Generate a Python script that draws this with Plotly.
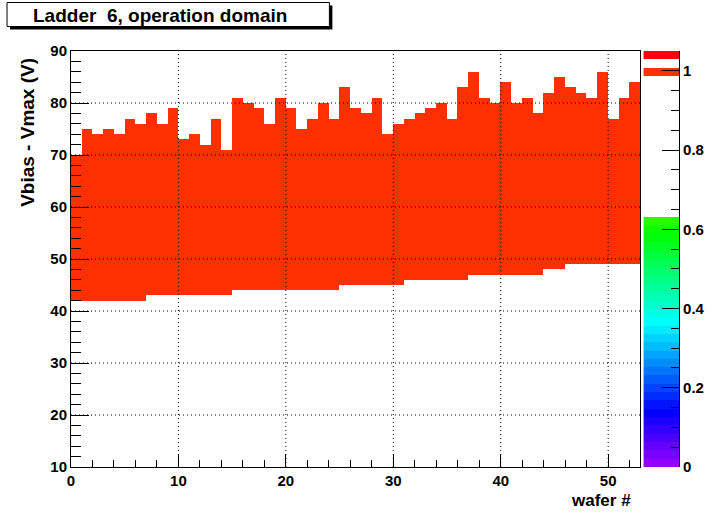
import colorsys
import plotly.graph_objects as go

# ---------------- data ----------------
wafer_edges = list(range(0, 54))          # 53 wafers, bin edges
vbias_edges = list(range(10, 91))         # 1 V bins from 10 to 90
lower_bound = [42, 42, 42, 42, 42, 42, 42, 43, 43, 43,
               43, 43, 43, 43, 43, 44, 44, 44, 44, 44,
               44, 44, 44, 44, 44, 45, 45, 45, 45, 45,
               45, 46, 46, 46, 46, 46, 46, 47, 47, 47,
               47, 47, 47, 47, 48, 48, 49, 49, 49, 49,
               49, 49, 49]
upper_bound = [70, 75, 74, 75, 74, 77, 76, 78, 76, 79,
               73, 74, 72, 77, 71, 81, 80, 79, 76, 81,
               79, 75, 77, 80, 77, 83, 79, 78, 81, 74,
               76, 77, 78, 79, 80, 77, 83, 86, 81, 80,
               84, 80, 81, 78, 82, 85, 83, 82, 81, 86,
               77, 81, 84]
x_ticks = [0, 10, 20, 30, 40, 50]
y_ticks = [10, 20, 30, 40, 50, 60, 70, 80, 90]
palette_ticks = [0, 0.2, 0.4, 0.6, 0.8, 1]
palette_labels = ["0", "0.2", "0.4", "0.6", "0.8", "1"]
title_text = "Ladder\u00a0 6, operation domain"
x_title = "wafer #"
y_title = "Vbias - Vmax (V)"

# ---------------- style ----------------
Z_MAX = 1.05
N_LEVELS = 50
MISSING_LEVELS = set(range(30, 47)) | {48}   # palette levels rendered white


def root_color(i):
    hue = 280 - (i + 1) * 280 / N_LEVELS
    r, g, b = colorsys.hls_to_rgb(hue / 360, 0.5, 1.0)
    return f"rgb({round(r*255)},{round(g*255)},{round(b*255)})"


colorscale = []
for i in range(N_LEVELS):
    c = "rgb(255,255,255)" if i in MISSING_LEVELS else root_color(i)
    colorscale.append([i / N_LEVELS, c])
    colorscale.append([(i + 1) / N_LEVELS, c])

W, H = 717, 519
L, R, T, B = 71, 25, 51, 52
PW, PH = W - L - R, H - T - B


def px2x(px):
    return (px - L) / PW


def py2y(py):
    return (H - B - py) / PH


FONT = "Liberation Sans, Arial, Helvetica, sans-serif"
tickfont = dict(family=FONT, size=15, color="black", weight="bold")

# ---------------- traces ----------------
z = [[1 if lo <= v < hi else None for lo, hi in zip(lower_bound, upper_bound)]
     for v in vbias_edges[:-1]]

fig = go.Figure()
fig.add_trace(go.Heatmap(
    x=wafer_edges, y=vbias_edges, z=z,
    zmin=0, zmax=Z_MAX, colorscale=colorscale, showscale=False,
    hoverinfo="skip", xaxis="x", yaxis="y",
))

# palette (colour bar) drawn as its own heatmap
level_edges = [k * Z_MAX / N_LEVELS for k in range(N_LEVELS + 1)]
level_vals = [[(level_edges[k] + level_edges[k + 1]) / 2] for k in range(N_LEVELS)]
fig.add_trace(go.Heatmap(
    x=[0, 1], y=level_edges, z=level_vals,
    zmin=0, zmax=Z_MAX, colorscale=colorscale, showscale=False,
    hoverinfo="skip", xaxis="x3", yaxis="y3",
))

# ---------------- shapes ----------------
shapes = []
for t in x_ticks:
    if t == 0:
        continue
    shapes.append(dict(type="line", xref="x", yref="y", x0=t, x1=t,
                       y0=y_ticks[0], y1=y_ticks[-1], layer="above",
                       line=dict(color="black", width=1, dash="1px,3px")))
for t in y_ticks[1:-1]:
    shapes.append(dict(type="line", xref="x", yref="y", x0=wafer_edges[0],
                       x1=wafer_edges[-1], y0=t, y1=t, layer="above",
                       line=dict(color="black", width=1, dash="1px,3px")))
# title box with shadow
shapes.append(dict(type="rect", xref="paper", yref="paper",
                   x0=px2x(9.5), x1=px2x(334.5), y0=py2y(29.5), y1=py2y(5.5),
                   fillcolor="black", line=dict(width=0), layer="above"))
shapes.append(dict(type="rect", xref="paper", yref="paper",
                   x0=px2x(6.5), x1=px2x(331.5), y0=py2y(26.5), y1=py2y(2.5),
                   fillcolor="white", line=dict(color="black", width=1),
                   layer="above"))

annotations = [
    dict(text=title_text, xref="paper", yref="paper", x=px2x(31), y=py2y(15),
         xanchor="left", yanchor="middle", showarrow=False,
         font=dict(family=FONT, size=19, color="black", weight="bold")),
    dict(text=y_title, xref="paper", yref="paper", x=px2x(27), y=py2y(56),
         xanchor="center", yanchor="top", textangle=-90, showarrow=False,
         font=dict(family=FONT, size=19, color="black", weight="bold")),
    dict(text=x_title, xref="paper", yref="paper", x=px2x(638), y=py2y(500),
         xanchor="right", yanchor="middle", showarrow=False,
         font=dict(family=FONT, size=17, color="black", weight="bold")),
]

axis_common = dict(showline=True, linecolor="black", linewidth=1,
                   showgrid=False, zeroline=False, layer="above traces",
                   tickcolor="black", tickwidth=1, tickfont=tickfont,
                   ticks="inside", fixedrange=True)

fig.update_layout(
    width=W, height=H,
    margin=dict(l=L, r=R, t=T, b=B, pad=0),
    paper_bgcolor="white", plot_bgcolor="white",
    showlegend=False,
    xaxis=dict(domain=[0, px2x(645)], range=[wafer_edges[0], wafer_edges[-1]],
               tickvals=x_ticks, ticklen=13, mirror=True,
               minor=dict(dtick=2, tick0=0, ticks="inside", ticklen=7,
                          tickcolor="black", showgrid=False),
               **axis_common),
    yaxis=dict(domain=[0, 1], range=[y_ticks[0], y_ticks[-1]],
               tickvals=y_ticks, ticklen=18, mirror=True,
               minor=dict(dtick=2, tick0=0, ticks="inside", ticklen=10,
                          tickcolor="black", showgrid=False),
               **axis_common),
    xaxis3=dict(domain=[px2x(648), px2x(684)], range=[0, 1], anchor="y3",
                visible=False, fixedrange=True),
    yaxis3=dict(domain=[0, 1], range=[0, Z_MAX], anchor="x3", side="right",
                tickvals=palette_ticks, ticktext=palette_labels, ticklen=17,
                minor=dict(dtick=0.05, tick0=0, ticks="inside", ticklen=8,
                           tickcolor="black", showgrid=False),
                **axis_common),
    shapes=shapes,
    annotations=annotations,
)

fig.write_html(
    "out.html",
    config={"displayModeBar": False, "staticPlot": True},
    post_script="document.body.style.margin='0';document.body.style.overflow='hidden';",
)
